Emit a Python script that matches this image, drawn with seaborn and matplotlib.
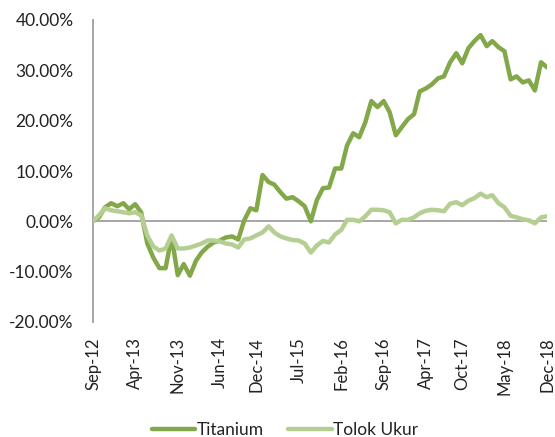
import matplotlib
matplotlib.use("Agg")

import matplotlib.pyplot as plt
import matplotlib.ticker as mticker
import numpy as np
import pandas as pd
import seaborn as sns

# ── Data (monthly, Sep-12 .. Dec-18, cumulative return in %) ─────────────────
titanium = [
    0.0, 0.8, 2.8, 3.6, 3.0, 3.6, 2.4, 3.4, 1.8, -4.4,
    -7.2, -9.3, -9.3, -3.0, -10.7, -8.5, -10.8, -7.8, -6.2, -5.0,
    -4.2, -3.8, -3.2, -3.0, -3.6, 0.2, 2.6, 2.2, 9.2, 7.8,
    7.3, 5.8, 4.5, 4.8, 4.0, 3.0, 0.0, 4.2, 6.6, 6.7,
    10.5, 10.5, 15.1, 17.5, 16.7, 19.7, 23.9, 22.7, 23.9, 21.7,
    17.1, 18.7, 20.3, 21.3, 25.8, 26.4, 27.2, 28.4, 28.8, 31.6,
    33.4, 31.4, 34.4, 35.8, 37.0, 34.8, 35.8, 34.6, 33.8, 28.2,
    28.8, 27.6, 28.0, 26.0, 31.6, 30.6,
]
tolok_ukur = [
    0.0, 1.2, 2.6, 2.2, 2.0, 1.8, 1.6, 1.8, 1.2, -2.8,
    -5.0, -5.8, -5.4, -2.8, -5.4, -5.4, -5.2, -4.8, -4.4, -3.8,
    -3.8, -4.0, -4.4, -4.6, -5.2, -3.6, -3.4, -2.8, -2.2, -1.0,
    -2.2, -3.0, -3.4, -3.7, -3.8, -4.4, -6.2, -4.8, -3.9, -4.2,
    -2.6, -1.7, 0.3, 0.3, 0.0, 1.0, 2.3, 2.3, 2.2, 1.8,
    -0.4, 0.3, 0.3, 0.8, 1.6, 2.1, 2.3, 2.2, 2.0, 3.5,
    3.8, 3.2, 4.1, 4.6, 5.5, 4.8, 5.2, 3.6, 2.8, 1.1,
    0.8, 0.4, 0.2, -0.4, 0.8, 1.0,
]
dates = pd.date_range("2012-09-01", periods=len(titanium), freq="MS")
tick_labels = ["Sep-12", "Apr-13", "Nov-13", "Jun-14", "Dec-14", "Jul-15",
               "Feb-16", "Sep-16", "Apr-17", "Oct-17", "May-18", "Dec-18"]
y_ticks = [-20, -10, 0, 10, 20, 30, 40]

series_names = ["Titanium", "Tolok Ukur"]
colors = ["#83A849", "#B5CF93"]

df = pd.DataFrame({
    "date": np.concatenate([dates, dates]),
    "value": titanium + tolok_ukur,
    "series": [series_names[0]] * len(titanium) + [series_names[1]] * len(tolok_ukur),
})

# ── Style ────────────────────────────────────────────────────────────────────
sns.set_style("white")
plt.rcParams["font.family"] = ["Lato", "DejaVu Sans"]
plt.rcParams["lines.solid_joinstyle"] = "round"
plt.rcParams["lines.solid_capstyle"] = "round"
TEXT = "#222222"
AXIS = "#A6A6A6"

fig = plt.figure(figsize=(5.55, 4.37), dpi=100)
ax = fig.add_axes([93 / 555, 1 - 322 / 437, 454 / 555, 302 / 437])

ax.axhline(0, color=AXIS, lw=1.4, zorder=1)
sns.lineplot(
    data=df, x="date", y="value", hue="series", hue_order=series_names,
    palette=colors, linewidth=3.2, ax=ax, zorder=3,
)

ax.set_xlim(dates[0], dates[-1])
ax.set_ylim(-20, 40)
ax.set_yticks(y_ticks)
ax.yaxis.set_major_formatter(mticker.FuncFormatter(lambda v, _: f"{v:.2f}%"))
ax.set_xticks(pd.to_datetime(tick_labels, format="%b-%y"))
ax.set_xticklabels(tick_labels, rotation=90)
ax.set_xlabel("")
ax.set_ylabel("")

ax.tick_params(axis="y", length=0, pad=14, labelsize=12.5, labelcolor=TEXT)
ax.tick_params(axis="x", length=0, pad=11, labelsize=12, labelcolor=TEXT)

for side in ["top", "right", "bottom"]:
    ax.spines[side].set_visible(False)
ax.spines["left"].set_color(AXIS)
ax.spines["left"].set_linewidth(1.4)

sns.move_legend(
    ax, "center", bbox_to_anchor=((285 - 93) / 454, (322 - 430) / 302),
    ncol=2, frameon=False, title=None, fontsize=12.5,
    handlelength=2.5, handletextpad=0.1, columnspacing=1.4,
)
for text in ax.get_legend().get_texts():
    text.set_color(TEXT)

fig.savefig("out.png", dpi=100)
